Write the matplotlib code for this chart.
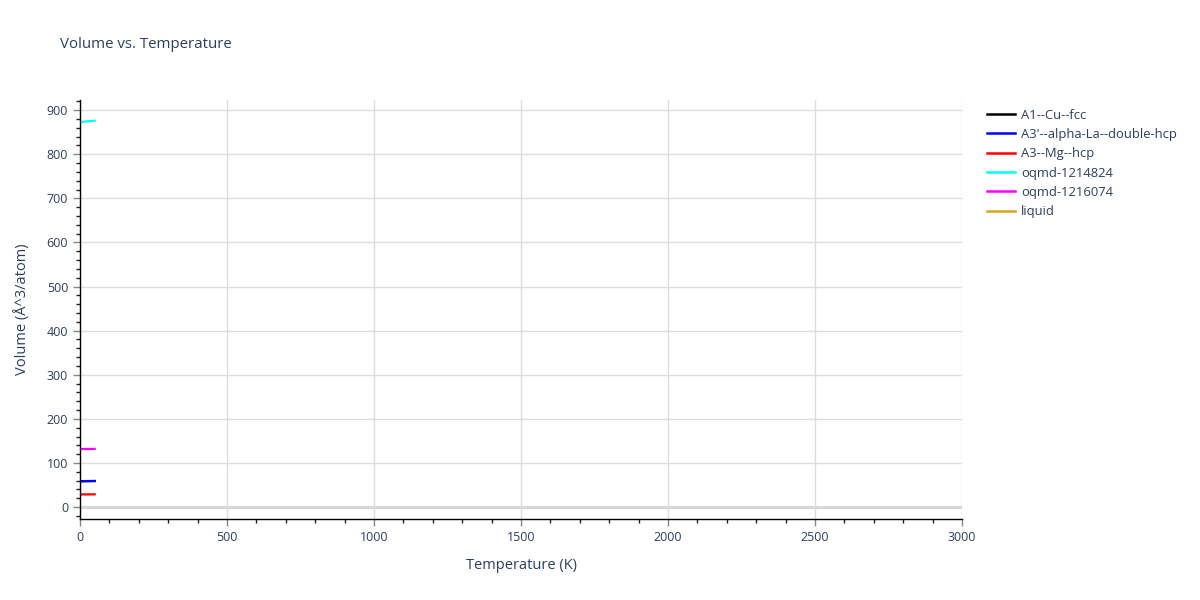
import matplotlib
matplotlib.use("Agg")
import matplotlib.pyplot as plt
from matplotlib.ticker import MultipleLocator

plt.rcParams['font.family'] = ['Open Sans', 'DejaVu Sans']

temps = [0, 10, 20, 30, 40, 50]
series_names = ["A1--Cu--fcc", "A3'--alpha-La--double-hcp", "A3--Mg--hcp",
                "oqmd-1214824", "oqmd-1216074", "liquid"]
series_colors = ["black", "blue", "red", "cyan", "magenta", "goldenrod"]
vol_cu_fcc = [58.5, 58.6, 58.7, 58.8, 58.9, 59.0]
vol_la_dhcp = [58.8, 58.9, 59.0, 59.1, 59.2, 59.3]
vol_mg_hcp = [28.7, 28.7, 28.8, 28.8, 28.9, 28.9]
vol_oqmd_1214824 = [873.0, 873.6, 874.2, 874.8, 875.4, 876.0]
vol_oqmd_1216074 = [131.5, 131.6, 131.7, 131.8, 131.9, 132.0]
liquid_temps = []
vol_liquid = []

text_color = "#2a3f5f"

fig = plt.figure(figsize=(12, 6), dpi=100)
ax = fig.add_axes([80/1200, 1-519/600, (962-80)/1200, (519-100)/600])

data = [(temps, vol_cu_fcc), (temps, vol_la_dhcp), (temps, vol_mg_hcp),
        (temps, vol_oqmd_1214824), (temps, vol_oqmd_1216074), (liquid_temps, vol_liquid)]
for (t, v), name, c in zip(data, series_names, series_colors):
    ax.plot(t, v, color=c, lw=1.6, label=name)

ax.set_xlim(0, 3000)
ax.set_ylim(-27, 923)
ax.xaxis.set_major_locator(MultipleLocator(500))
ax.xaxis.set_minor_locator(MultipleLocator(100))
ax.yaxis.set_major_locator(MultipleLocator(100))
ax.yaxis.set_minor_locator(MultipleLocator(20))
ax.grid(True, which='major', color='#dddddd', lw=1)
ax.set_axisbelow(True)
ax.axhline(0, color='#cccccc', lw=2, zorder=0.5)

for s in ['top', 'right']:
    ax.spines[s].set_visible(False)
for s in ['left', 'bottom']:
    ax.spines[s].set_color('black')
    ax.spines[s].set_linewidth(1)

ax.tick_params(which='major', direction='out', length=5, width=1, color='#888888',
               labelcolor=text_color, labelsize=9)
ax.tick_params(which='minor', direction='out', length=3, width=1, color='#222222')

ax.set_xlabel("Temperature (K)", color=text_color, fontsize=10.5, labelpad=10)
ax.set_ylabel("Volume (Å^3/atom)", color=text_color, fontsize=10.5, labelpad=12)
fig.text(60/1200, 1-45/600, "Volume vs. Temperature", color=text_color, fontsize=10.8,
         va='center', ha='left')

leg = ax.legend(loc='upper left', bbox_to_anchor=(975/1200, 1-97/600),
                bbox_transform=fig.transFigure, frameon=False, fontsize=9.4,
                handlelength=2.2, labelspacing=0.48, handletextpad=0.45,
                labelcolor=text_color)
for h in leg.get_lines():
    h.set_linewidth(1.8)

fig.savefig("out.png", dpi=100)
